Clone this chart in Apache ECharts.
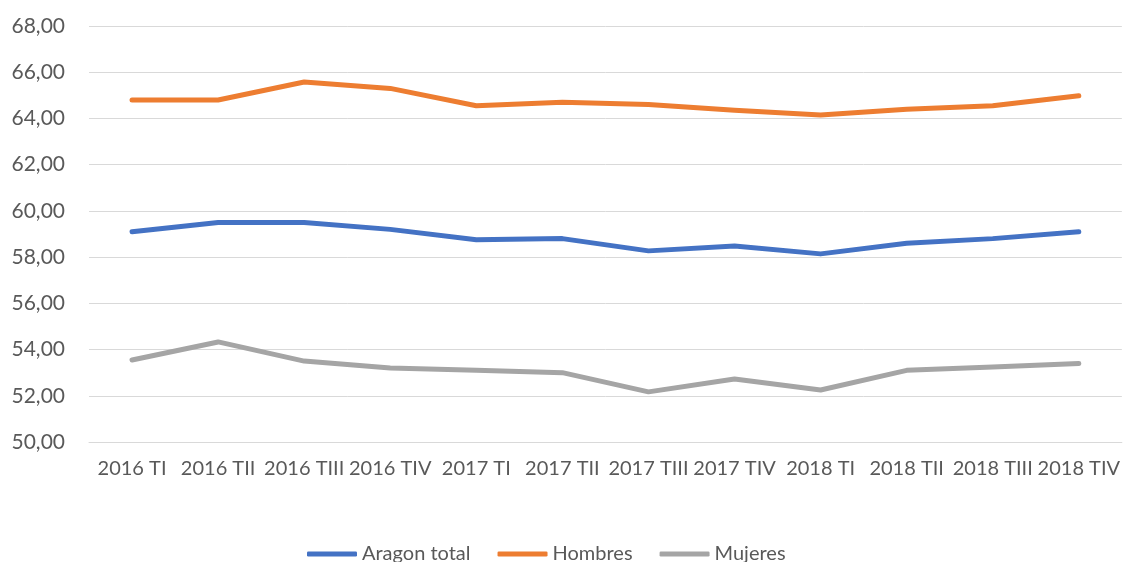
<!DOCTYPE html>
<html>
<head>
<meta charset="utf-8">
<script src="https://cdn.jsdelivr.net/npm/echarts@6/dist/echarts.min.js"></script>
<style>
  html, body { margin: 0; padding: 0; background: #fff; }
  #chart { width: 1123px; height: 562px; }
</style>
</head>
<body>
<div id="chart"></div>
<script>
// quarters on the x axis
const categories = ['2016 TI', '2016 TII', '2016 TIII', '2016 TIV', '2017 TI', '2017 TII',
  '2017 TIII', '2017 TIV', '2018 TI', '2018 TII', '2018 TIII', '2018 TIV'];

const aragonTotal = [59.1, 59.5, 59.5, 59.2, 58.75, 58.8, 58.27, 58.48, 58.14, 58.6, 58.8, 59.1];
const hombres = [64.8, 64.8, 65.58, 65.3, 64.55, 64.7, 64.6, 64.35, 64.15, 64.4, 64.55, 64.98];
const mujeres = [53.55, 54.33, 53.5, 53.2, 53.1, 53.0, 52.17, 52.73, 52.25, 53.1, 53.25, 53.4];

const font = 'Lato';
const chart = echarts.init(document.getElementById('chart'));

chart.setOption({
  animation: false,
  color: ['#4472C4', '#ED7D31', '#A5A5A5'],
  grid: { left: 89, right: 0, top: 26, bottom: 120 },
  legend: {
    bottom: -7,
    left: 302,
    itemWidth: 50,
    itemHeight: 5,
    itemGap: 27,
    icon: 'roundRect',
    textStyle: { fontFamily: font, fontSize: 20, color: '#595959' },
    data: ['Aragon total', 'Hombres', 'Mujeres']
  },
  xAxis: {
    type: 'category',
    data: categories,
    axisTick: { show: false },
    axisLine: { lineStyle: { color: '#d9d9d9', width: 1 } },
    axisLabel: { interval: 0, margin: 17, fontFamily: font, fontSize: 20, color: '#595959' }
  },
  yAxis: {
    type: 'value',
    min: 50,
    max: 68,
    interval: 2,
    axisLabel: {
      margin: 24,
      fontFamily: font,
      fontSize: 21,
      color: '#595959',
      formatter: v => v.toFixed(2).replace('.', ',')
    },
    splitLine: { lineStyle: { color: '#d9d9d9', width: 1 } }
  },
  series: [
    { name: 'Aragon total', type: 'line', data: aragonTotal, symbol: 'none', lineStyle: { width: 5, cap: 'round', join: 'round' } },
    { name: 'Hombres', type: 'line', data: hombres, symbol: 'none', lineStyle: { width: 5, cap: 'round', join: 'round' } },
    { name: 'Mujeres', type: 'line', data: mujeres, symbol: 'none', lineStyle: { width: 5, cap: 'round', join: 'round' } }
  ]
});
</script>
</body>
</html>
